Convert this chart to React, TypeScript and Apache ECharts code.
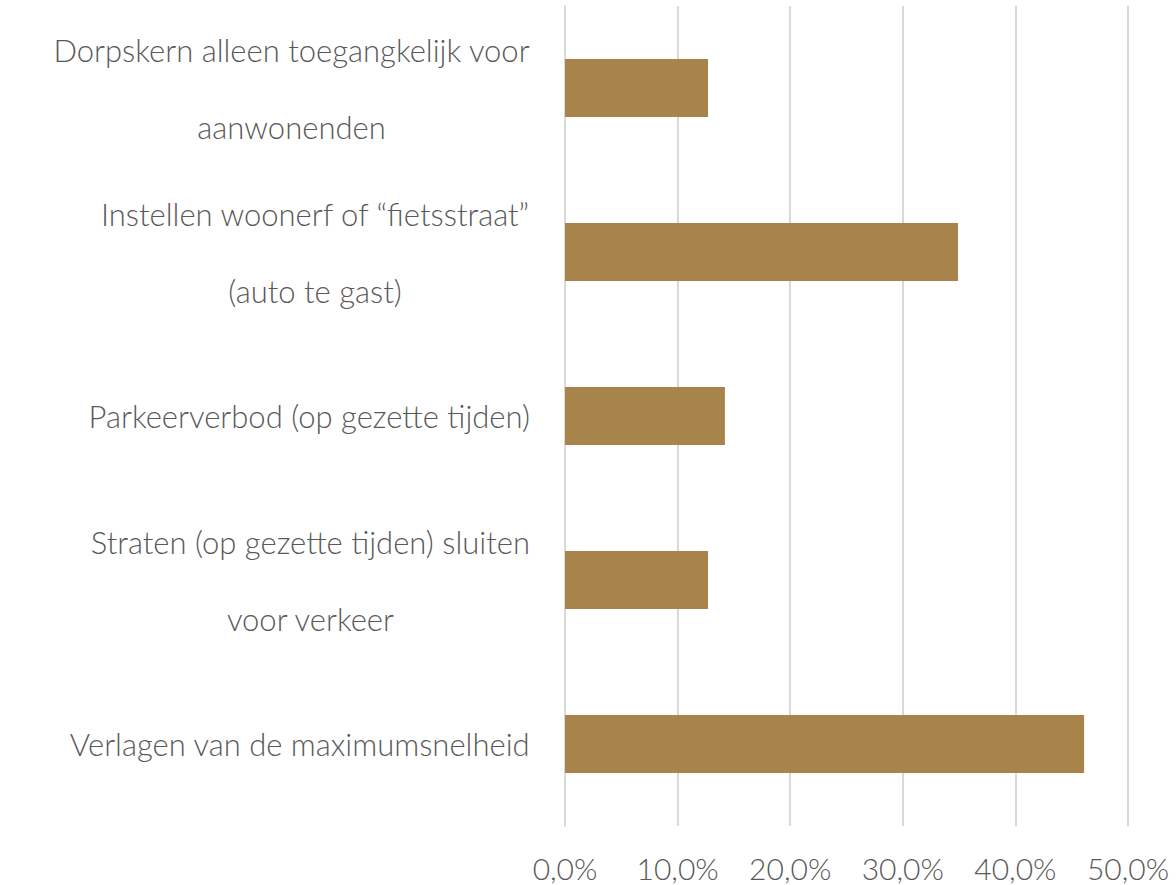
import React, { useEffect, useRef } from "react";
import * as echarts from "echarts";

const categories = [
  "Dorpskern alleen toegangkelijk voor\naanwonenden",
  "Instellen woonerf of “fietsstraat”\n(auto te gast)",
  "Parkeerverbod (op gezette tijden)",
  "Straten (op gezette tijden) sluiten\nvoor verkeer",
  "Verlagen van de maximumsnelheid",
];
const values = [12.7, 34.9, 14.2, 12.7, 46.1];
const xTicks = [0, 10, 20, 30, 40, 50];

export default function App() {
  const ref = useRef<HTMLDivElement>(null);
  useEffect(() => {
    document.body.style.margin = "0";
    const chart = echarts.init(ref.current!, null, { renderer: "svg" });
    const font = "Lato";
    chart.setOption({
      animation: false,
      grid: { left: 565, right: 48, top: 6, bottom: 59, containLabel: false },
      xAxis: {
        type: "value",
        min: xTicks[0],
        max: xTicks[xTicks.length - 1],
        interval: 10,
        axisLine: { show: false },
        axisTick: { show: false },
        splitLine: { lineStyle: { color: "#d9d9d9", width: 2 } },
        axisLabel: {
          formatter: (v: number) => v.toFixed(1).replace(".", ",") + "%",
          color: "#595959",
          fontSize: 30,
          fontFamily: font,
          fontWeight: 300,
          margin: 26,
          lineHeight: 32,
        },
      },
      yAxis: {
        type: "category",
        inverse: true,
        data: categories,
        axisLine: { show: true, lineStyle: { color: "#d9d9d9", width: 2 } },
        axisTick: { show: false },
        axisLabel: {
          margin: 35,
          color: "#595959",
          fontSize: 31,
          fontFamily: font,
          fontWeight: 300,
          lineHeight: 77,
          formatter: (v: string) =>
            v.split("\n").map((l) => "{c|" + l + "}").join("\n"),
          rich: {
            c: {
              align: "center",
              color: "#595959",
              fontSize: 31,
              fontFamily: font,
              fontWeight: 300,
              lineHeight: 77,
            },
          },
        },
      },
      series: [
        {
          type: "bar",
          data: values,
          barWidth: 58,
          itemStyle: { color: "#A8844A" },
        },
      ],
    });
    return () => chart.dispose();
  }, []);
  return <div ref={ref} style={{ width: 1176, height: 885 }} />;
}
